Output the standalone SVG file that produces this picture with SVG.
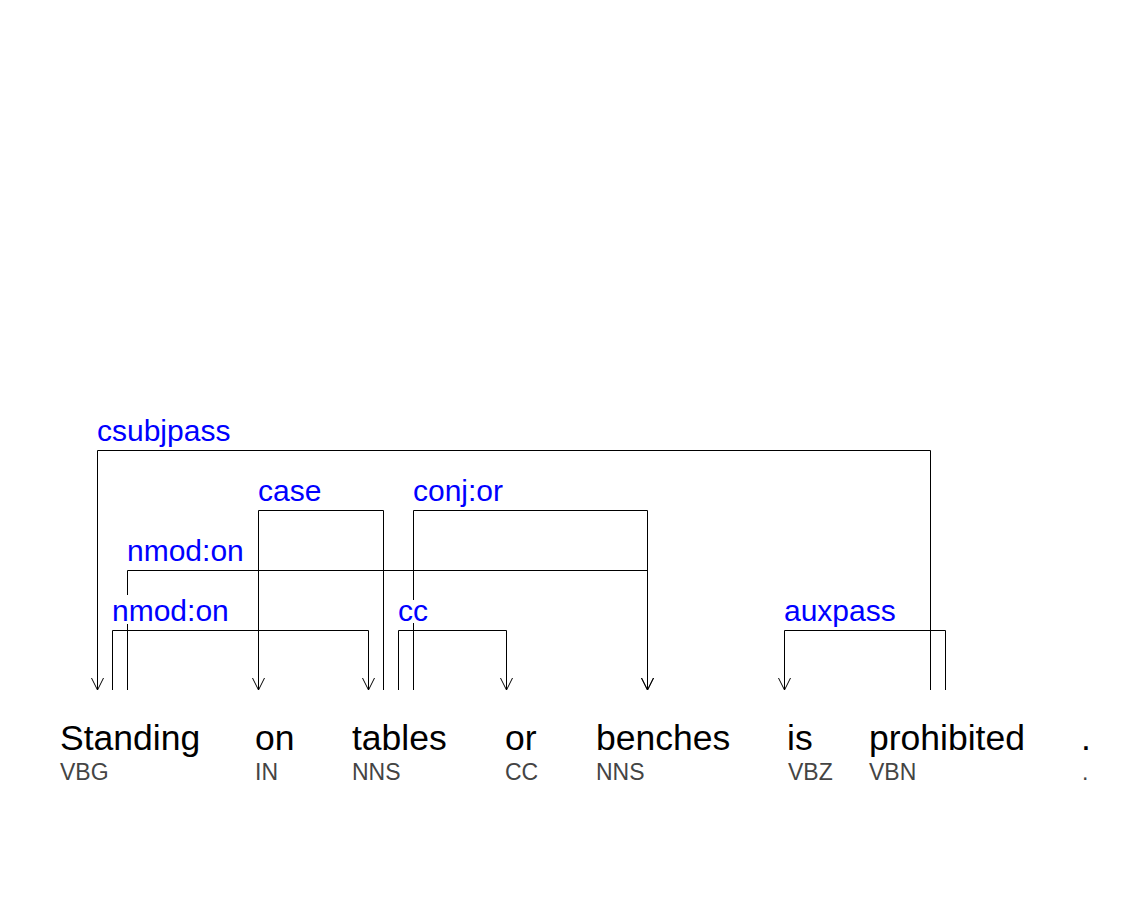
<svg xmlns="http://www.w3.org/2000/svg" width="1145" height="900" viewBox="0 0 1145 900">
<style>
.w{font-family:"Liberation Sans",Arial,sans-serif;font-size:35.5px;fill:#000}
.p{font-family:"Liberation Sans",Arial,sans-serif;font-size:23px;fill:#444}
.l{font-family:"Liberation Sans",Arial,sans-serif;font-size:30px;fill:#0000ff}
.e{fill:none;stroke:#000;stroke-width:1}
.bg{fill:#fff}
</style>
<defs>
<marker id="ah" markerUnits="userSpaceOnUse" markerWidth="14" markerHeight="14" refX="7" refY="13" orient="0" viewBox="0 0 14 14">
<path d="M1 1 L7 13 L13 1" fill="none" stroke="#000" stroke-width="1"/>
</marker>
</defs>
<rect width="1145" height="900" fill="#fff"/>
<g id="connectors">
<path class="e" d="M930.5 690 V450.5 H97.5 V690" marker-end="url(#ah)"/>
<path class="e" d="M383.5 690 V510.5 H258.5 V690" marker-end="url(#ah)"/>
<path class="e" d="M413.5 690 V510.5 H647.5 V690" marker-end="url(#ah)"/>
<path class="e" d="M127.5 690 V570.5 H647.5 V690" marker-end="url(#ah)"/>
<path class="e" d="M112.5 690 V630.5 H368.5 V690" marker-end="url(#ah)"/>
<path class="e" d="M398.5 690 V630.5 H506.5 V690" marker-end="url(#ah)"/>
<path class="e" d="M945.5 690 V630.5 H784.5 V690" marker-end="url(#ah)"/>
</g>
<g id="labels">
<g id="lbl-csubjpass"><text class="l" x="97" y="441">csubjpass</text></g>
<g id="lbl-case"><text class="l" x="258" y="501">case</text></g>
<g id="lbl-conj"><text class="l" x="413" y="501">conj:or</text></g>
<g id="lbl-nmod1"><text class="l" x="127" y="561">nmod:on</text></g>
<g id="lbl-nmod2"><rect class="bg" x="112" y="595" width="116" height="29"/><text class="l" x="112" y="621">nmod:on</text></g>
<g id="lbl-cc"><rect class="bg" x="398" y="600" width="30" height="23"/><text class="l" x="398" y="621">cc</text></g>
<g id="lbl-auxpass"><text class="l" x="784" y="621">auxpass</text></g>
</g>
<g id="w0"><text class="w" x="60" y="750">Standing</text><text class="p" x="60" y="780">VBG</text></g>
<g id="w1"><text class="w" x="255" y="750">on</text><text class="p" x="255" y="780">IN</text></g>
<g id="w2"><text class="w" x="352" y="750">tables</text><text class="p" x="352" y="780">NNS</text></g>
<g id="w3"><text class="w" x="505" y="750">or</text><text class="p" x="505" y="780">CC</text></g>
<g id="w4"><text class="w" x="596" y="750">benches</text><text class="p" x="596" y="780">NNS</text></g>
<g id="w5"><text class="w" x="787" y="750">is</text><text class="p" x="788" y="780">VBZ</text></g>
<g id="w6"><text class="w" x="869" y="750">prohibited</text><text class="p" x="869" y="780">VBN</text></g>
<g id="w7"><text class="w" x="1081" y="750">.</text><text class="p" x="1082" y="780">.</text></g>
</svg>
